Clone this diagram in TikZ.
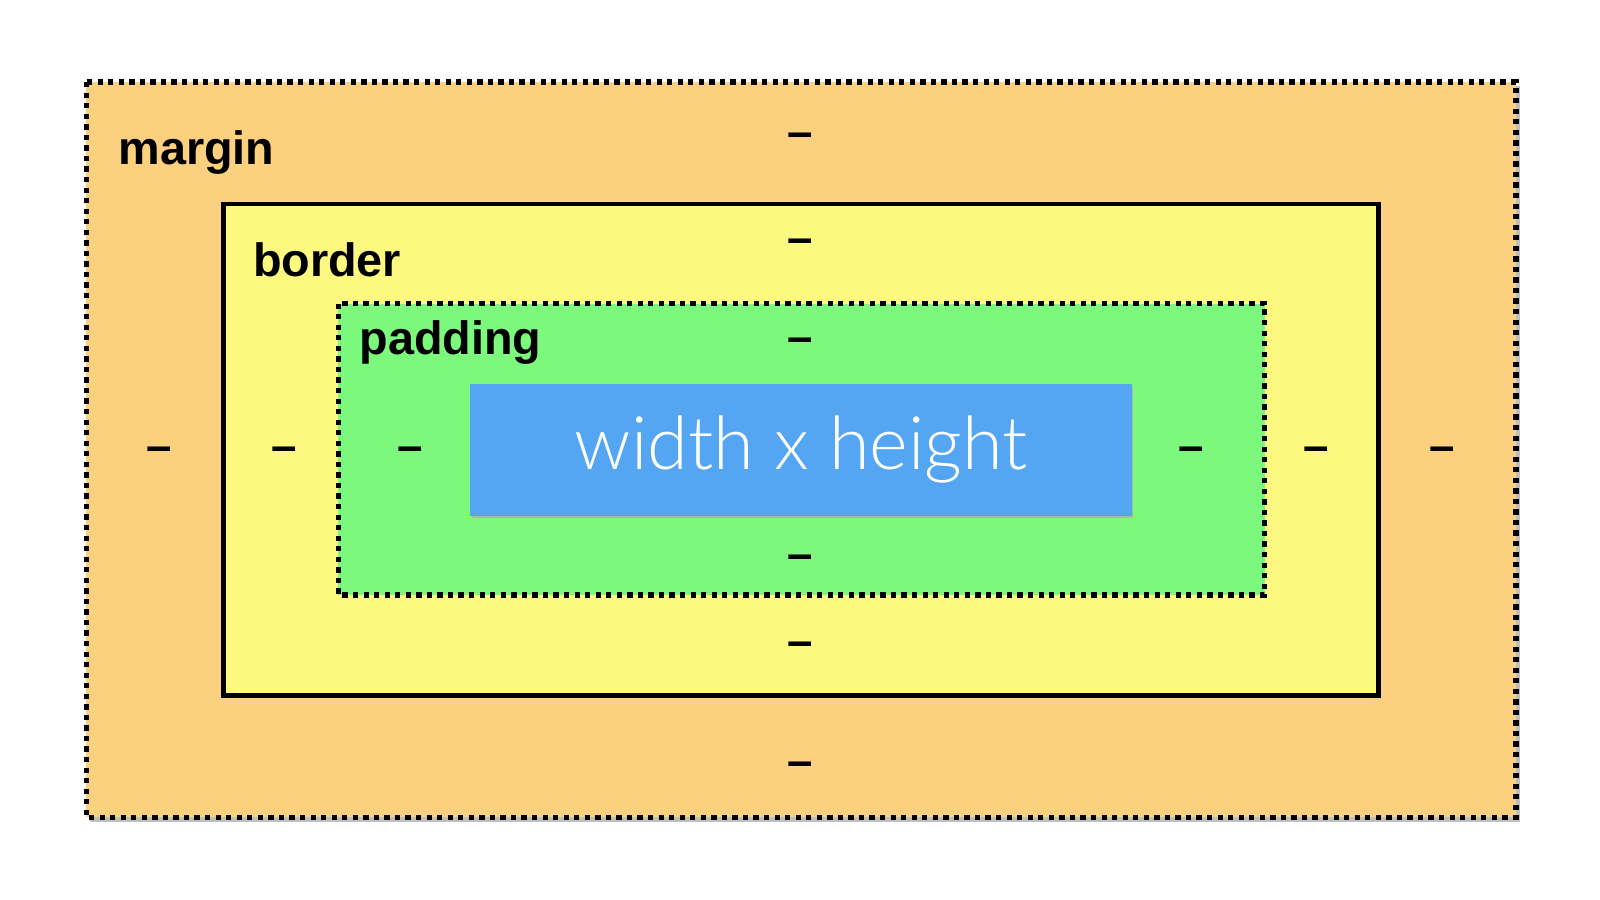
\documentclass[tikz,border=0pt]{standalone}
\usepackage{fontspec}
\setmainfont{Liberation Sans}
\newfontfamily\lightfont{Lato Light}
\definecolor{cmargin}{HTML}{FBD07F}
\definecolor{cborder}{HTML}{FDF880}
\definecolor{cpad}{HTML}{7CF87D}
\definecolor{ccontent}{HTML}{55A6F2}
\begin{document}
\begin{tikzpicture}[x=0.010256cm,y=-0.010256cm,
  dotbox/.style={line width=1.5pt,dash pattern=on 1.5pt off 1.5pt},
  lab/.style={font=\bfseries\fontsize{13.3}{13}\selectfont,anchor=base west,inner sep=0},
  dsh/.style={font=\fontsize{13}{13}\selectfont\bfseries,inner sep=0}]
\useasboundingbox (0,0) rectangle (1560,877.5);
\fill[black!25] (88,84) rectangle (1482,801);
\filldraw[fill=cmargin,dotbox] (84,80) rectangle (1478,797);
\filldraw[fill=cborder,line width=1.3pt] (218,199) rectangle (1344,678);
\filldraw[fill=cpad,dotbox] (330,296) rectangle (1233,580);
\fill[black!30] (460,377) rectangle (1105,505);
\node[fill=ccontent,minimum width=645*0.010256cm,minimum height=128*0.010256cm,inner sep=0,anchor=north west,
  font=\lightfont\fontsize{21}{21}\selectfont,text=white] (content) at (458,374) {width x height};
\node[lab] (lm) at (115,160) {margin};
\node[lab] (lb) at (246,270) {border};
\node[lab] (lp) at (350,346) {padding};
\foreach \n/\x/\y in {mt/780/137,ml/155/443,mr/1406/443,mb/780/750,bt/780/240,bl/277/443,br/1283/443,bb/780/633,pt/780/337,pl/400/443,pr/1161/443,pb/780/548}
  \node[dsh] (\n) at (\x,\y) {–};
\end{tikzpicture}
\end{document}
